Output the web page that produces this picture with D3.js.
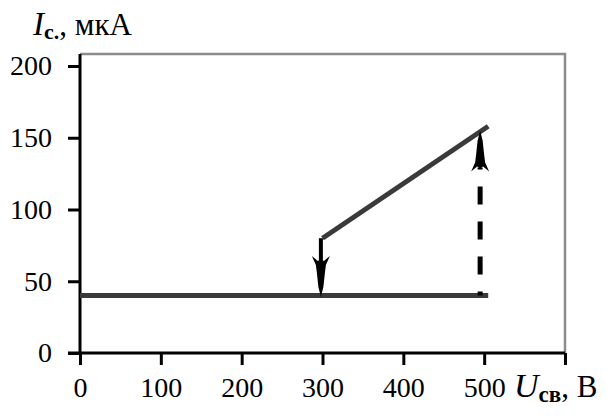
<!DOCTYPE html>
<html>
<head>
<meta charset="utf-8">
<script src="https://cdn.jsdelivr.net/npm/d3@7"></script>
<style>
  html, body { margin: 0; padding: 0; background: #fff; }
  svg text { font-family: "Liberation Serif", "Times New Roman", serif; fill: #000; }
</style>
</head>
<body>
<svg id="chart" width="607" height="417"></svg>
<script>
// Axis ticks
const xTicks = [0, 100, 200, 300, 400, 500, 600];
const xTickLabels = ["0", "100", "200", "300", "400", "500", ""];
const yTicks = [0, 50, 100, 150, 200];

// Lower branch of the characteristic (U, I)
const lowU = [0, 505];
const lowI = [40, 40];

// Upper branch of the characteristic (U, I)
const highU = [300, 505];
const highI = [80, 158];

// Jumps between branches: voltage, start current, end current, dashed or not
const jumpU = [298, 495];
const jumpFrom = [80, 40];
const jumpTo = [39, 155];
const jumpDashed = [false, true];

const svg = d3.select("#chart");

const x = d3.scaleLinear().domain([0, 600]).range([80, 565]);
const y = d3.scaleLinear().domain([0, 200]).range([353, 66]);
const frameTop = 54;

// Plot frame (top and right edges)
svg.append("path")
  .attr("d", `M${x(0)},${frameTop}H${x(600)}V${y(0)}`)
  .attr("fill", "none")
  .attr("stroke", "#8c8c8c")
  .attr("stroke-width", 2.5);

// Y axis
const yAxis = svg.append("g")
  .attr("transform", `translate(${x(0)},0)`)
  .call(d3.axisLeft(y).tickValues(yTicks).tickSize(12).tickPadding(16).tickSizeOuter(0));
yAxis.select(".domain").remove();
yAxis.selectAll("line").attr("stroke", "#000").attr("stroke-width", 3);
yAxis.selectAll("text").attr("font-size", 28).style("font-family", "Liberation Serif");
svg.append("line")
  .attr("x1", x(0)).attr("x2", x(0))
  .attr("y1", frameTop).attr("y2", y(0))
  .attr("stroke", "#000").attr("stroke-width", 3);

// X axis
const xAxis = svg.append("g")
  .attr("transform", `translate(0,${y(0)})`)
  .call(d3.axisBottom(x).tickValues(xTicks).tickFormat((d, i) => xTickLabels[i])
    .tickSize(12).tickPadding(12).tickSizeOuter(0));
xAxis.select(".domain").remove();
xAxis.selectAll("line").attr("stroke", "#000").attr("stroke-width", 3);
xAxis.selectAll("text").attr("font-size", 28).style("font-family", "Liberation Serif");
svg.append("line")
  .attr("x1", x(0) - 12).attr("x2", x(600))
  .attr("y1", y(0)).attr("y2", y(0))
  .attr("stroke", "#000").attr("stroke-width", 3);

// Branches
const line = d3.line().x(d => x(d[0])).y(d => y(d[1]));
[[lowU, lowI], [highU, highI]].forEach(([us, is]) => {
  svg.append("path")
    .attr("d", line(us.map((u, i) => [u, is[i]])))
    .attr("fill", "none")
    .attr("stroke", "#3a3a3a")
    .attr("stroke-width", 5);
});

// Arrowhead outline, tip at origin, pointing towards -y
const headLen = 41;
const head = [[0,0],[2.5,10],[4,24],[5,32],[9,41],[3,36],[0,38],[-3,36],[-9,41],[-5,32],[-4,24],[-2.5,10]];

jumpU.forEach((u, i) => {
  const x0 = x(u), y0 = y(jumpFrom[i]), y1 = y(jumpTo[i]);
  const dir = y1 < y0 ? 1 : -1; // 1 = upwards
  const baseY = y1 + dir * (headLen - 4);
  const stem = svg.append("line")
    .attr("x1", x0).attr("x2", x0)
    .attr("y1", y0).attr("y2", baseY)
    .attr("stroke", "#000")
    .attr("stroke-width", jumpDashed[i] ? 5 : 4);
  if (jumpDashed[i]) stem.attr("stroke-dasharray", "18,17").attr("stroke-dashoffset", 14);
  svg.append("path")
    .attr("d", "M" + head.map(p => [x0 + p[0], y1 + dir * p[1]].join(",")).join("L") + "Z")
    .attr("fill", "#000");
});

// Axis titles
const yTitle = svg.append("text").attr("x", 33).attr("y", 35);
yTitle.append("tspan").attr("font-size", 33).attr("font-style", "italic").text("I");
yTitle.append("tspan").attr("font-size", 22).attr("font-weight", "bold").attr("dy", 4).text("с.");
yTitle.append("tspan").attr("font-size", 31).attr("dy", -4).text(", мкА");

const xTitle = svg.append("text").attr("x", 514).attr("y", 397);
xTitle.append("tspan").attr("font-size", 34).attr("font-style", "italic").text("U");
xTitle.append("tspan").attr("font-size", 23).attr("font-weight", "bold").attr("dy", 5).text("св");
xTitle.append("tspan").attr("font-size", 31).attr("dy", -5).text(", В");
</script>
</body>
</html>
